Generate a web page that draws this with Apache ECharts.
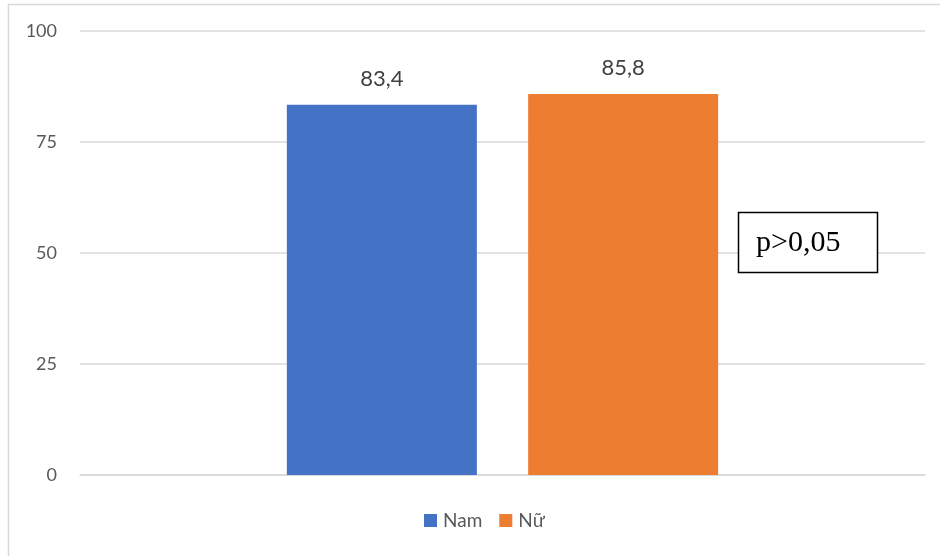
<!DOCTYPE html>
<html>
<head>
<meta charset="utf-8">
<script src="https://cdn.jsdelivr.net/npm/echarts@6/dist/echarts.min.js"></script>
<style>
  html, body { margin: 0; padding: 0; background: #fff; }
  #chart { width: 940px; height: 556px; }
</style>
</head>
<body>
<div id="chart"></div>
<script>
// Proportion by sex (%)
const categories = [''];
const seriesNames = ['Nam', 'Nữ'];
const namValues = [83.4];
const nuValues = [85.8];
const yTicks = { min: 0, max: 100, interval: 25 };
const noteText = 'p>0,05';

const colors = ['#4472C4', '#ED7D31'];
const font = 'Lato, "Open Sans", sans-serif';

const chart = echarts.init(document.getElementById('chart'), null, { renderer: 'canvas' });

const labelOpt = {
  show: true,
  position: 'top',
  distance: 15,
  fontFamily: font,
  fontSize: 22,
  color: '#404040',
  formatter: p => String(p.value).replace('.', ',')
};

chart.setOption({
  animation: false,
  color: colors,
  grid: { left: 80, right: 15, top: 31, bottom: 81, containLabel: false },
  legend: {
    bottom: 21,
    left: 419,
    itemWidth: 13,
    itemHeight: 13,
    itemGap: 17,
    icon: 'rect',
    textStyle: { fontFamily: font, fontSize: 19, color: '#595959', padding: [0, 0, 0, 1] },
    data: seriesNames
  },
  xAxis: {
    type: 'category',
    data: categories,
    axisLine: { show: true, lineStyle: { color: '#d9d9d9', width: 1.5 } },
    axisTick: { show: false },
    axisLabel: { show: false }
  },
  yAxis: {
    type: 'value',
    min: yTicks.min,
    max: yTicks.max,
    interval: yTicks.interval,
    axisLine: { show: false },
    axisTick: { show: false },
    axisLabel: { fontFamily: font, fontSize: 18, color: '#595959', margin: 23 },
    splitLine: { lineStyle: { color: '#d9d9d9', width: 1.5 } }
  },
  series: [
    {
      name: seriesNames[0],
      type: 'bar',
      data: namValues,
      barWidth: 190,
      barGap: '27%',
      label: labelOpt
    },
    {
      name: seriesNames[1],
      type: 'bar',
      data: nuValues,
      barWidth: 190,
      barGap: '27%',
      label: labelOpt
    }
  ],
  graphic: [
    {
      type: 'rect',
      shape: { x: 8.5, y: 4.5, width: 960, height: 600 },
      style: { fill: 'none', stroke: '#d9d9d9', lineWidth: 1.5 },
      silent: true
    },
    {
      type: 'rect',
      shape: { x: 738.5, y: 212.5, width: 139, height: 60 },
      style: { fill: '#fff', stroke: '#000', lineWidth: 1.5 },
      z: 100
    },
    {
      type: 'text',
      x: 756,
      y: 243,
      style: {
        text: noteText,
        fontFamily: '"Liberation Serif", "Times New Roman", serif',
        fontSize: 30,
        fill: '#000',
        textVerticalAlign: 'middle',
        verticalAlign: 'middle'
      },
      z: 101
    }
  ]
});
</script>
</body>
</html>
